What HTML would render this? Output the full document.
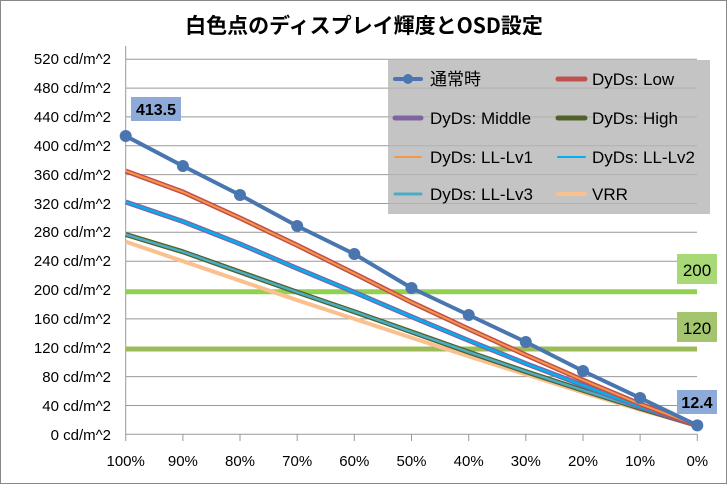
<!DOCTYPE html>
<html><head><meta charset="utf-8"><style>
html,body{margin:0;padding:0;background:#fff}
svg{display:block;font-family:"Liberation Sans","Noto Sans CJK JP",sans-serif}
</style></head><body>
<svg width="727" height="484" viewBox="0 0 727 484" xmlns="http://www.w3.org/2000/svg">
<rect x="0.5" y="0.5" width="726" height="483" fill="#fff" stroke="#888"/>
<text x="364" y="33" text-anchor="middle" font-size="21" font-weight="bold" font-family="'Noto Sans CJK JP',sans-serif">白色点のディスプレイ輝度とOSD設定</text>
<g stroke="#999" stroke-width="1">
<line x1="126" x2="697" y1="59.2" y2="59.2"/><line x1="126" x2="697" y1="88.1" y2="88.1"/><line x1="126" x2="697" y1="116.9" y2="116.9"/><line x1="126" x2="697" y1="145.8" y2="145.8"/><line x1="126" x2="697" y1="174.6" y2="174.6"/><line x1="126" x2="697" y1="203.5" y2="203.5"/><line x1="126" x2="697" y1="232.3" y2="232.3"/><line x1="126" x2="697" y1="261.2" y2="261.2"/><line x1="126" x2="697" y1="290" y2="290"/><line x1="126" x2="697" y1="318.9" y2="318.9"/><line x1="126" x2="697" y1="347.8" y2="347.8"/><line x1="126" x2="697" y1="376.6" y2="376.6"/><line x1="126" x2="697" y1="405.5" y2="405.5"/>
<line x1="125.7" x2="125.7" y1="46" y2="434.3"/>
<line x1="125.7" x2="697.3" y1="434.3" y2="434.3"/>
<line x1="125.7" x2="125.7" y1="434" y2="441"/><line x1="182.9" x2="182.9" y1="434" y2="441"/><line x1="240" x2="240" y1="434" y2="441"/><line x1="297.2" x2="297.2" y1="434" y2="441"/><line x1="354.3" x2="354.3" y1="434" y2="441"/><line x1="411.5" x2="411.5" y1="434" y2="441"/><line x1="468.7" x2="468.7" y1="434" y2="441"/><line x1="525.8" x2="525.8" y1="434" y2="441"/><line x1="583" x2="583" y1="434" y2="441"/><line x1="640.1" x2="640.1" y1="434" y2="441"/><line x1="697.3" x2="697.3" y1="434" y2="441"/>
</g>
<g font-size="15" text-anchor="end" fill="#000">
<text x="111" y="64">520 cd/m^2</text><text x="111" y="93">480 cd/m^2</text><text x="111" y="122">440 cd/m^2</text><text x="111" y="151">400 cd/m^2</text><text x="111" y="180">360 cd/m^2</text><text x="111" y="209">320 cd/m^2</text><text x="111" y="237">280 cd/m^2</text><text x="111" y="266">240 cd/m^2</text><text x="111" y="295">200 cd/m^2</text><text x="111" y="324">160 cd/m^2</text><text x="111" y="353">120 cd/m^2</text><text x="111" y="382">80 cd/m^2</text><text x="111" y="411">40 cd/m^2</text><text x="111" y="440">0 cd/m^2</text>
</g>
<g font-size="15" text-anchor="middle">
<text x="125.7" y="466">100%</text><text x="182.9" y="466">90%</text><text x="240" y="466">80%</text><text x="297.2" y="466">70%</text><text x="354.3" y="466">60%</text><text x="411.5" y="466">50%</text><text x="468.7" y="466">40%</text><text x="525.8" y="466">30%</text><text x="583" y="466">20%</text><text x="640.1" y="466">10%</text><text x="697.3" y="466">0%</text>
</g>
<line x1="126" x2="697" y1="291.7" y2="291.7" stroke="#92d050" stroke-width="5"/>
<line x1="126" x2="697" y1="349" y2="349" stroke="#9bbb59" stroke-width="5"/>
<rect x="677" y="254" width="40" height="30" fill="#a9d977"/>
<text x="697" y="276" font-size="17" text-anchor="middle">200</text>
<rect x="677" y="312" width="40" height="30" fill="#a4c46e"/>
<text x="697" y="334" font-size="17" text-anchor="middle">120</text>
<g fill="none" stroke-linejoin="round">
<polyline stroke="#fbc08f" stroke-width="4" points="125.7,241.7 182.9,261.2 240,280.7 297.2,300.2 354.3,318.9 411.5,337.7 468.7,356.4 525.8,374.4 583,392.5 640.1,409.8 697.3,425.6"/>
<polyline stroke="#4f6228" stroke-width="5" points="125.7,234.5 182.9,251.8 240,272 297.2,292.2 354.3,311.7 411.5,331.9 468.7,352.1 525.8,371.6 583,390.3 640.1,408.3 697.3,425.6"/>
<polyline stroke="#4bacc6" stroke-width="2.5" points="125.7,234.5 182.9,251.8 240,272 297.2,292.2 354.3,311.7 411.5,331.9 468.7,352.1 525.8,371.6 583,390.3 640.1,408.3 697.3,425.6"/>
<polyline stroke="#8064a2" stroke-width="5" points="125.7,202 182.9,221.5 240,243.9 297.2,268.4 354.3,292.2 411.5,316.7 468.7,340.5 525.8,363.6 583,385.3 640.1,406.9 697.3,425.6"/>
<polyline stroke="#00b0f0" stroke-width="2.5" points="125.7,202 182.9,221.5 240,243.9 297.2,268.4 354.3,292.2 411.5,316.7 468.7,340.5 525.8,363.6 583,385.3 640.1,406.9 697.3,425.6"/>
<polyline stroke="#c0504d" stroke-width="5" points="125.7,171 182.9,192 240,218 297.2,245.3 354.3,273.5 411.5,302.3 468.7,329 525.8,355 583,380.2 640.1,404 697.3,425.6"/>
<polyline stroke="#f79646" stroke-width="2" points="125.7,171 182.9,192 240,218 297.2,245.3 354.3,273.5 411.5,302.3 468.7,329 525.8,355 583,380.2 640.1,404 697.3,425.6"/>
<polyline stroke="#4a76b0" stroke-width="4" points="125.7,136 182.9,166 240,195 297.2,226 354.3,254 411.5,288 468.7,315 525.8,342 583,371 640.1,398 697.3,425.4"/>
</g>
<g fill="#4a76b0">
<circle cx="125.7" cy="136" r="6"/><circle cx="182.9" cy="166" r="6"/><circle cx="240" cy="195" r="6"/><circle cx="297.2" cy="226" r="6"/><circle cx="354.3" cy="254" r="6"/><circle cx="411.5" cy="288" r="6"/><circle cx="468.7" cy="315" r="6"/><circle cx="525.8" cy="342" r="6"/><circle cx="583" cy="371" r="6"/><circle cx="640.1" cy="398" r="6"/><circle cx="697.3" cy="425.4" r="6"/>
</g>
<rect x="131" y="97" width="50" height="24" fill="#8eaad8"/>
<text x="156" y="115" font-size="16" font-weight="bold" text-anchor="middle">413.5</text>
<rect x="677" y="390" width="40" height="24" fill="#8eaad8"/>
<text x="697" y="408" font-size="16" font-weight="bold" text-anchor="middle">12.4</text>
<rect x="388" y="60" width="322" height="154" fill="#c4c4c4"/>
<g stroke="#b0b0b0" stroke-width="1"><line x1="388" x2="697" y1="88.1" y2="88.1"/><line x1="388" x2="697" y1="116.9" y2="116.9"/><line x1="388" x2="697" y1="145.8" y2="145.8"/><line x1="388" x2="697" y1="174.6" y2="174.6"/><line x1="388" x2="697" y1="203.5" y2="203.5"/></g>
<g stroke-linecap="round">
<line x1="395" x2="421" y1="79" y2="79" stroke="#4a76b0" stroke-width="4"/><circle cx="408" cy="79" r="5" fill="#4a76b0"/>
<line x1="558" x2="585" y1="79" y2="79" stroke="#c0504d" stroke-width="5"/>
<line x1="395" x2="421" y1="118" y2="118" stroke="#8064a2" stroke-width="5"/>
<line x1="558" x2="585" y1="118" y2="118" stroke="#4f6228" stroke-width="5"/>
<line x1="395" x2="421" y1="157" y2="157" stroke="#f79646" stroke-width="2"/>
<line x1="558" x2="585" y1="157" y2="157" stroke="#00b0f0" stroke-width="2"/>
<line x1="395" x2="421" y1="194" y2="194" stroke="#4bacc6" stroke-width="3"/>
<line x1="558" x2="585" y1="194" y2="194" stroke="#fbc08f" stroke-width="4"/>
</g>
<g font-size="17">
<text x="430" y="85">通常時</text><text x="592" y="85">DyDs: Low</text>
<text x="430" y="124">DyDs: Middle</text><text x="592" y="124">DyDs: High</text>
<text x="430" y="163">DyDs: LL-Lv1</text><text x="592" y="163">DyDs: LL-Lv2</text>
<text x="430" y="200">DyDs: LL-Lv3</text><text x="592" y="200">VRR</text>
</g>
</svg>
</body></html>
